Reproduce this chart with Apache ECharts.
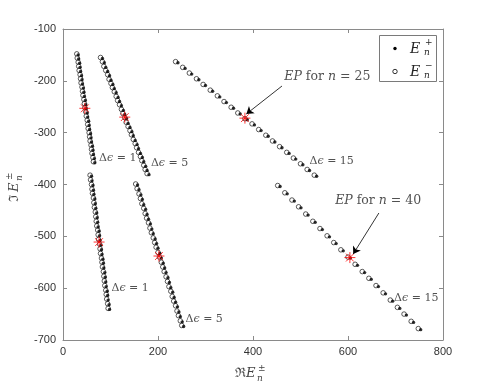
<!DOCTYPE html>
<html>
<head>
<meta charset="utf-8">
<script src="https://cdn.jsdelivr.net/npm/echarts@6/dist/echarts.min.js"></script>
<style>
html, body { margin: 0; padding: 0; background: #fff; }
#main { width: 491px; height: 383px; }
</style>
</head>
<body>
<div id="main"></div>
<script>
// branch A: n=25, de=1 / branch B: n=25, de=5 / branch C: n=25, de=15
// branch D: n=40, de=1 / branch E: n=40, de=5 / branch F: n=40, de=15
// open circles = E_n^-, filled dots = E_n^+
const aMinusX = [29,30,32,33,34,36,37,38,40,41,42,44,45,46,48,49,51,52,53,55,56,57,59,60,61,63,64];
const aMinusY = [-148,-156,-164,-172,-180,-188,-196,-204,-212,-220,-228,-236,-244,-252,-260,-268,-276,-284,-292,-300,-308,-316,-324,-332,-340,-348,-356];
const aPlusX = [32,33,35,36,37,39,40,41,43,44,45,47,48,49,51,52,54,55,56,58,59,60,62,63,64,66,67];
const aPlusY = [-150,-158,-166,-174,-182,-190,-198,-206,-214,-222,-230,-238,-246,-254,-262,-270,-278,-286,-294,-302,-310,-318,-326,-334,-342,-350,-358];

const bMinusX = [79,83,86,90,94,97,101,104,108,112,115,119,123,126,130,133,137,141,144,148,152,155,159,163,166,170,173,177];
const bMinusY = [-155,-163,-172,-180,-188,-197,-205,-213,-221,-230,-238,-246,-255,-263,-271,-280,-288,-296,-304,-313,-321,-329,-338,-346,-354,-363,-371,-379];
const bPlusX = [83,87,90,94,98,101,105,108,112,116,119,123,127,130,134,137,141,145,148,152,156,159,163,167,170,174,177,181];
const bPlusY = [-157,-165,-174,-182,-190,-199,-207,-215,-223,-232,-240,-248,-257,-265,-273,-282,-290,-298,-306,-315,-323,-331,-340,-348,-356,-365,-373,-381];

const cMinusX = [237,252,266,281,295,310,325,339,354,368,383,398,412,427,441,456,471,485,500,514,529];
const cMinusY = [-163,-174,-185,-196,-207,-218,-229,-240,-251,-262,-273,-283,-294,-305,-316,-327,-338,-349,-360,-371,-382];
const cPlusX = [242,257,271,286,300,315,330,344,359,373,388,403,417,432,446,461,476,490,505,519,534];
const cPlusY = [-165,-176,-187,-198,-209,-220,-231,-242,-253,-264,-275,-285,-296,-307,-318,-329,-340,-351,-362,-373,-384];

const dMinusX = [57,58,60,61,62,64,65,66,68,69,70,71,73,74,75,77,78,79,81,82,83,85,86,87,88,90,91,92,94,95];
const dMinusY = [-382,-391,-400,-409,-417,-426,-435,-444,-453,-462,-471,-480,-488,-497,-506,-515,-524,-533,-542,-550,-559,-568,-577,-586,-595,-604,-612,-621,-630,-639];
const dPlusX = [60,61,63,64,65,67,68,69,71,72,73,74,76,77,78,80,81,82,84,85,86,88,89,90,91,93,94,95,97,98];
const dPlusY = [-384,-393,-402,-411,-419,-428,-437,-446,-455,-464,-473,-482,-490,-499,-508,-517,-526,-535,-544,-552,-561,-570,-579,-588,-597,-606,-614,-623,-632,-641];

const eMinusX = [153,156,160,163,166,170,173,176,180,183,186,190,193,196,200,203,207,210,213,217,220,223,227,230,233,237,240,243,247,250];
const eMinusY = [-399,-408,-418,-427,-437,-446,-456,-465,-474,-484,-493,-503,-512,-521,-531,-540,-550,-559,-568,-578,-587,-597,-606,-616,-625,-634,-644,-653,-663,-672];
const ePlusX = [157,160,164,167,170,174,177,180,184,187,190,194,197,200,204,207,211,214,217,221,224,227,231,234,237,241,244,247,251,254];
const ePlusY = [-401,-410,-420,-429,-439,-448,-458,-467,-476,-486,-495,-505,-514,-523,-533,-542,-552,-561,-570,-580,-589,-599,-608,-618,-627,-636,-646,-655,-665,-674];

const fMinusX = [452,467,482,496,511,526,541,556,570,585,600,615,630,644,659,674,689,704,718,733,748];
const fMinusY = [-402,-416,-430,-443,-457,-471,-485,-499,-512,-526,-540,-554,-568,-581,-595,-609,-623,-637,-650,-664,-678];
const fPlusX = [457,472,487,501,516,531,546,561,575,590,605,620,635,649,664,679,694,709,723,738,753];
const fPlusY = [-404,-418,-432,-445,-459,-473,-487,-501,-514,-528,-542,-556,-570,-583,-597,-611,-625,-639,-652,-666,-680];

// exceptional points (red stars)
const epX = [46, 130, 383, 76, 202, 604];
const epY = [-253, -270, -272, -511, -538, -541];

// "Δε = .." notes
const noteEps = [1, 5, 15, 1, 5, 15];
const noteX = [76, 185, 519, 102, 258, 697];
const noteY = [-350, -359, -354, -600, -660, -619];

// "EP for n = .." notes and arrows
const epNoteN = [25, 40];
const epNoteX = [466, 573];
const epNoteY = [-193, -431];
const arrowFrom = [[461, -210], [665, -455]];
const arrowTo = [[386, -264], [611, -534]];

const xTicks = [0, 200, 400, 600, 800];
const yTicks = [-700, -600, -500, -400, -300, -200, -100];

function zip(xs, ys) {
    let out = [];
    for (let i = 0; i < xs.length; i++) out.push([xs[i], ys[i]]);
    return out;
}

let minusData = [].concat(
    zip(aMinusX, aMinusY), zip(bMinusX, bMinusY), zip(cMinusX, cMinusY),
    zip(dMinusX, dMinusY), zip(eMinusX, eMinusY), zip(fMinusX, fMinusY));
let plusData = [].concat(
    zip(aPlusX, aPlusY), zip(bPlusX, bPlusY), zip(cPlusX, cPlusY),
    zip(dPlusX, dPlusY), zip(ePlusX, ePlusY), zip(fPlusX, fPlusY));

let noteData = [];
for (let i = 0; i < noteEps.length; i++) noteData.push([noteX[i], noteY[i], noteEps[i]]);
let epNoteData = [];
for (let i = 0; i < epNoteN.length; i++) epNoteData.push([epNoteX[i], epNoteY[i], epNoteN[i]]);
let arrowData = [];
for (let i = 0; i < arrowFrom.length; i++) arrowData.push({coords: [arrowFrom[i], arrowTo[i]]});

const serif = 'DejaVu Serif';
const txtColor = '#262626';
const axisColor = '#8a8a8a';

function richMath(size) {
    return {
        r: {fontFamily: serif, fontSize: size, color: txtColor},
        i: {fontFamily: serif, fontSize: size, fontStyle: 'italic', color: txtColor}
    };
}

function valueAxis(pos, min, max, interval, showLabel) {
    return {
        type: 'value',
        position: pos,
        min: min,
        max: max,
        interval: interval,
        axisLine: {show: true, onZero: false, lineStyle: {color: axisColor, width: 1}},
        axisTick: {show: true, inside: true, length: 4, lineStyle: {color: axisColor}},
        axisLabel: {
            show: showLabel,
            fontFamily: 'Liberation Sans',
            fontSize: 11,
            color: '#333',
            margin: pos === 'left' ? 7 : 6
        },
        splitLine: {show: false}
    };
}

let mainchart = echarts.init(document.getElementById('main'), null, {renderer: 'canvas'});

let chart_config = {
    animation: false,
    backgroundColor: '#fff',
    grid: {left: 63, right: 48, top: 29, bottom: 43, show: false},
    xAxis: [
        valueAxis('bottom', xTicks[0], xTicks[xTicks.length - 1], 200, true),
        valueAxis('top', xTicks[0], xTicks[xTicks.length - 1], 200, false)
    ],
    yAxis: [
        valueAxis('left', yTicks[0], yTicks[yTicks.length - 1], 100, true),
        valueAxis('right', yTicks[0], yTicks[yTicks.length - 1], 100, false)
    ],
    series: [
        {
            name: 'E-',
            type: 'scatter',
            data: minusData,
            symbol: 'circle',
            symbolSize: 4.6,
            itemStyle: {color: '#fff', borderColor: '#000', borderWidth: 0.8},
            z: 2
        },
        {
            name: 'E+',
            type: 'scatter',
            data: plusData,
            symbol: 'circle',
            symbolSize: 3.4,
            itemStyle: {color: '#000'},
            z: 3
        },
        {
            name: 'EP',
            type: 'scatter',
            data: zip(epX, epY),
            symbol: 'path://M0,-10L0,10M-10,0L10,0M-7.07,-7.07L7.07,7.07M-7.07,7.07L7.07,-7.07',
            symbolSize: 11,
            itemStyle: {color: 'rgba(0,0,0,0)', borderColor: '#ff0000', borderWidth: 1},
            z: 4
        },
        {
            name: 'notes',
            type: 'scatter',
            data: noteData,
            symbolSize: 0,
            silent: true,
            label: {
                show: true,
                position: 'right',
                distance: 0,
                formatter: function (p) {
                    return '{r|Δ}{i|ϵ}{r| = ' + p.data[2] + '}';
                },
                rich: richMath(11)
            },
            z: 5
        },
        {
            name: 'epNotes',
            type: 'scatter',
            data: epNoteData,
            symbolSize: 0,
            silent: true,
            label: {
                show: true,
                position: 'right',
                distance: 0,
                formatter: function (p) {
                    return '{i|EP}{r| for }{i|n}{r| = ' + p.data[2] + '}';
                },
                rich: richMath(12.5)
            },
            z: 5
        },
        {
            name: 'arrows',
            type: 'lines',
            coordinateSystem: 'cartesian2d',
            data: arrowData,
            symbol: ['none', 'arrow'],
            symbolSize: 7,
            lineStyle: {color: '#000', width: 0.8, opacity: 1},
            silent: true,
            z: 5
        }
    ],
    graphic: [
        // legend box
        {type: 'rect', shape: {x: 379.5, y: 35.5, width: 57, height: 46},
         style: {fill: '#fff', stroke: '#7a7a7a', lineWidth: 1}, z: 10},
        {type: 'circle', shape: {cx: 395, cy: 48.5, r: 1.7}, style: {fill: '#000'}, z: 11},
        {type: 'circle', shape: {cx: 395, cy: 71.5, r: 2.2},
         style: {fill: '#fff', stroke: '#000', lineWidth: 0.8}, z: 11},
        {type: 'text', x: 410, y: 49, z: 11,
         style: {text: 'E', font: 'italic 14px "DejaVu Serif"', fill: txtColor, verticalAlign: 'middle'}},
        {type: 'text', x: 425, y: 43, z: 11,
         style: {text: '+', font: '9px "DejaVu Serif"', fill: txtColor, verticalAlign: 'middle'}},
        {type: 'text', x: 424, y: 53, z: 11,
         style: {text: 'n', font: 'italic 9px "DejaVu Serif"', fill: txtColor, verticalAlign: 'middle'}},
        {type: 'text', x: 410, y: 72, z: 11,
         style: {text: 'E', font: 'italic 14px "DejaVu Serif"', fill: txtColor, verticalAlign: 'middle'}},
        {type: 'text', x: 425, y: 66, z: 11,
         style: {text: '−', font: '9px "DejaVu Serif"', fill: txtColor, verticalAlign: 'middle'}},
        {type: 'text', x: 424, y: 76, z: 11,
         style: {text: 'n', font: 'italic 9px "DejaVu Serif"', fill: txtColor, verticalAlign: 'middle'}},
        // x axis name
        {type: 'group', x: 235, y: 374, children: [
            {type: 'text', x: 0, y: 0, style: {text: 'ℜ', font: '13px "DejaVu Serif"', fill: '#444', verticalAlign: 'middle'}},
            {type: 'text', x: 11, y: 0, style: {text: 'E', font: 'italic 13px "DejaVu Serif"', fill: '#444', verticalAlign: 'middle'}},
            {type: 'text', x: 23, y: -5, style: {text: '±', font: '9px "DejaVu Serif"', fill: '#444', verticalAlign: 'middle'}},
            {type: 'text', x: 22, y: 5, style: {text: 'n', font: 'italic 9px "DejaVu Serif"', fill: '#444', verticalAlign: 'middle'}}
        ]},
        // y axis name
        {type: 'group', x: 15, y: 202, rotation: Math.PI / 2, children: [
            {type: 'text', x: 0, y: 0, style: {text: 'ℑ', font: '13px "DejaVu Serif"', fill: '#444', verticalAlign: 'middle'}},
            {type: 'text', x: 10, y: 0, style: {text: 'E', font: 'italic 13px "DejaVu Serif"', fill: '#444', verticalAlign: 'middle'}},
            {type: 'text', x: 22, y: -5, style: {text: '±', font: '9px "DejaVu Serif"', fill: '#444', verticalAlign: 'middle'}},
            {type: 'text', x: 21, y: 5, style: {text: 'n', font: 'italic 9px "DejaVu Serif"', fill: '#444', verticalAlign: 'middle'}}
        ]}
    ]
};

mainchart.setOption(chart_config);
</script>
</body>
</html>
